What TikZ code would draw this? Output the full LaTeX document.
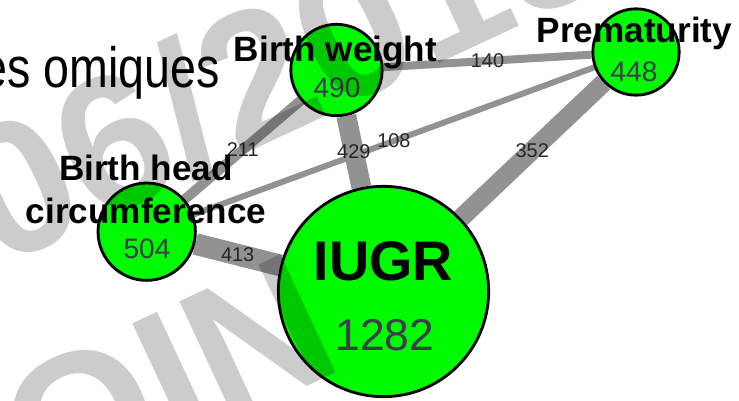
\documentclass[tikz,border=0pt]{standalone}
\usepackage{fontspec}
\setmainfont{Liberation Sans}
\usetikzlibrary{backgrounds}
\definecolor{verdenodo}{HTML}{00FA00}
\definecolor{grisarista}{HTML}{929292}
\definecolor{cifra}{HTML}{403C50}

\begin{document}
\begin{tikzpicture}[
  x=0.03cm, y=-0.03cm,
  nodo/.style={circle, draw=black, line width=2.4pt, fill=verdenodo, inner sep=0pt},
  nombre/.style={font=\fontsize{30}{36.6}\selectfont\bfseries, align=center, inner sep=0pt, anchor=base},
  cuenta/.style={font=\fontsize{24}{28}\selectfont, text=cifra, inner sep=0pt, anchor=base},
  arista/.style={draw=grisarista, line cap=butt},
  peso/.style={font=\fontsize{17}{20}\selectfont, text=black!85, midway, inner sep=0pt},
  filigrana/.style={font=\fontsize{162}{190}\selectfont\bfseries, text=black, opacity=0.2,
    rotate=25, anchor=base west, inner sep=0pt}
]
  \useasboundingbox (0,0) rectangle (739,401);

  % title of the slide, cut at the left border
  \node[font=\fontsize{48.5}{56}\selectfont, anchor=base east, inner sep=0pt] (titulo) at (220,88)
    {\scalebox{0.82}[1]{es omiques}};

  % nodes of the network
  \node[nodo, minimum size=2.74cm] (bw)   at (336.5,70)  {};
  \node[nodo, minimum size=2.59cm] (prem) at (636,52)    {};
  \node[nodo, minimum size=2.92cm] (pc)   at (146.7,231.7) {};
  \node[nodo, minimum size=6.31cm] (iugr) at (383.5,291.5) {};

  % edges, width after the number of shared items
  \begin{scope}[on background layer]
    \draw[arista, line width=6.8pt]  (bw) -- node[peso]{140} (prem);
    \draw[arista, line width=5.1pt]  (pc) -- node[peso]{108} (prem);
    \draw[arista, line width=8.5pt]  (pc) -- node[peso]{211} (bw);
    \draw[arista, line width=17pt]   (bw) -- node[peso]{429} (iugr);
    \draw[arista, line width=16pt]   (iugr) -- node[peso]{352} (prem);
    \draw[arista, line width=18.5pt] (pc) -- node[peso]{413} (iugr);
  \end{scope}

  % names and counts (base of a two-line name is its last line)
  \node[nombre] (bw-nom)   at (335.5,62) {Birth weight};
  \node[nombre] (prem-nom) at (634.5,43) {Prematurity};
  \node[nombre] (pc-nom)   at (146,223)  {Birth head\\circumference};
  \node[nombre, font=\fontsize{47.6}{56}\selectfont\bfseries] (iugr-nom) at (383.5,280) {IUGR};

  \node[cuenta] (bw-num)   at (337,98)  {490};
  \node[cuenta] (prem-num) at (634,82)  {448};
  \node[cuenta] (pc-num)   at (147,258) {504};
  \node[cuenta, font=\fontsize{38}{44}\selectfont] (iugr-num) at (385,350) {1282};

  % watermark over everything
  \begin{scope}
    \clip (0,0) rectangle (739,401);
    \node[filigrana] (fil-a) at (-2,269) {06/2015};
    \node[filigrana] (fil-b) at (42,510) {OIN};
  \end{scope}
\end{tikzpicture}
\end{document}
